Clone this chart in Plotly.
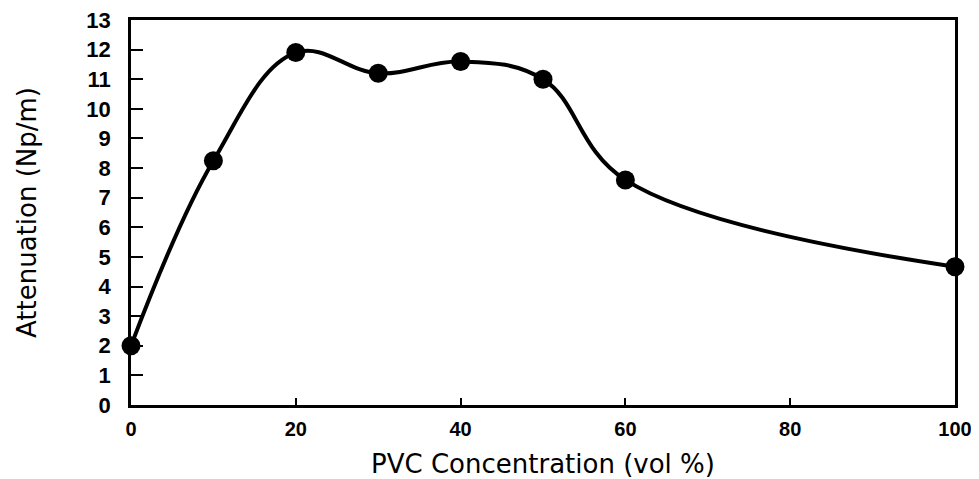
import plotly.graph_objects as go

pvc_conc = [0, 10, 20, 30, 40, 50, 60, 100]
attenuation = [2.0, 8.25, 11.9, 11.2, 11.6, 11.0, 7.6, 4.67]
x_ticks = [0, 20, 40, 60, 80, 100]
y_ticks = list(range(0, 14))

fig = go.Figure()
fig.add_trace(go.Scatter(
    x=pvc_conc, y=attenuation, mode="lines+markers",
    line=dict(color="black", width=4, shape="spline", smoothing=1.1),
    marker=dict(color="black", size=19),
    cliponaxis=False, showlegend=False,
))

fig.update_layout(
    width=971, height=471,
    margin=dict(l=123, r=24, t=12, b=74),
    paper_bgcolor="white", plot_bgcolor="white",
    font=dict(family="DejaVu Sans", color="black"),
)
fig.update_xaxes(
    range=[0, 100], tickvals=x_ticks, ticktext=[str(v) for v in x_ticks],
    ticks="inside", ticklen=7, tickwidth=2, tickcolor="black",
    showline=True, linecolor="black", linewidth=2.5, mirror=True,
    showgrid=False, zeroline=False, automargin=False,
    ticklabeloverflow="allow",
    tickfont=dict(family="Liberation Sans", size=20, weight="bold"),
    ticklabelstandoff=4,
    title=dict(text="PVC Concentration (vol %)", font=dict(family="DejaVu Sans", size=26), standoff=18),
)
fig.update_yaxes(
    range=[0, 13], tickvals=y_ticks, ticktext=[str(v) for v in y_ticks],
    ticks="inside", ticklen=12, tickwidth=2, tickcolor="black",
    showline=True, linecolor="black", linewidth=2.5, mirror=True,
    showgrid=False, zeroline=False, automargin=False,
    ticklabeloverflow="allow",
    tickfont=dict(family="Liberation Sans", size=22, weight="bold"),
    ticklabelstandoff=13,
    title=dict(text="Attenuation (Np/m)", font=dict(family="DejaVu Sans", size=26), standoff=43),
)

fig.write_html("out.html")
